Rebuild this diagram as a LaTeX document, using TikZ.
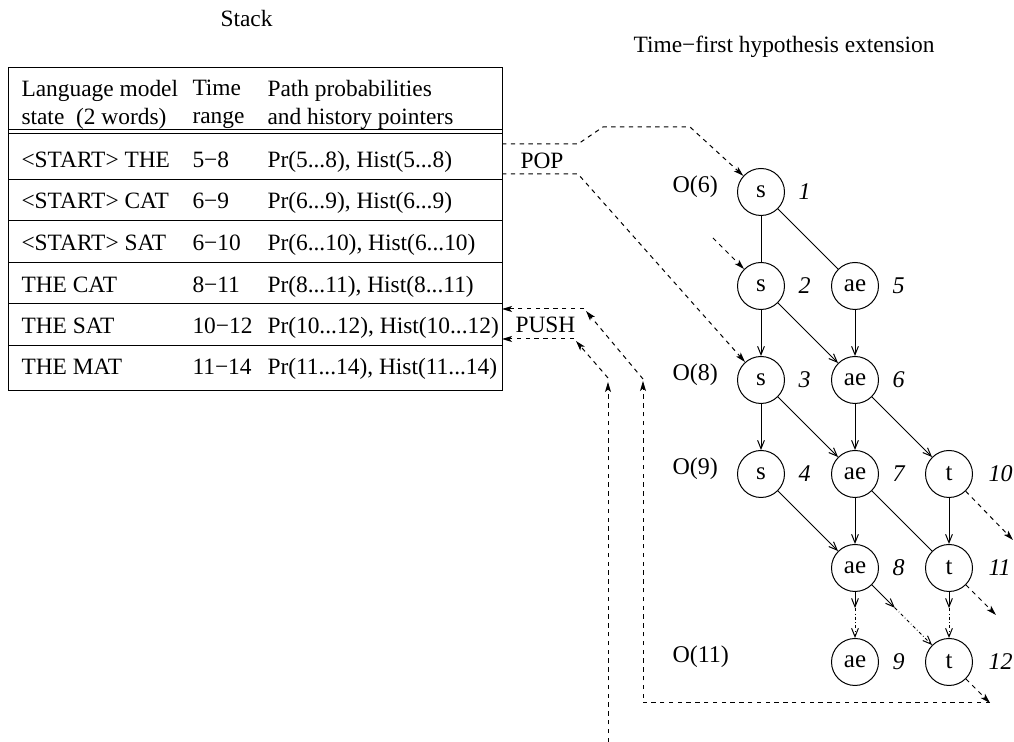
\documentclass[tikz,border=0pt]{standalone}
\usepackage{fontspec}
\setmainfont{Liberation Serif}
\usetikzlibrary{arrows.meta,positioning,calc}

\begin{document}
\begin{tikzpicture}[x=0.5pt,y=-0.5pt,line width=0.5pt,
    font=\fontsize{11.7}{14}\selectfont,node distance=47pt,
    phone/.style={circle,draw,minimum size=23.5pt,inner sep=0pt,
        font=\fontsize{12.5}{14}\selectfont},
    num/.style={font=\fontsize{12}{14}\selectfont\itshape,inner sep=0pt},
    olab/.style={anchor=west,inner sep=0pt,font=\fontsize{12}{14}\selectfont},
    cell/.style={anchor=base west,inner sep=0pt},
    head/.style={anchor=north west,inner sep=0pt,align=left},
    link/.style={-{Straight Barb[length=4.2pt,width=3.4pt]}},
    move/.style={dash pattern=on 2.2pt off 2.2pt,
        -{Stealth[length=5pt,width=3pt,inset=1.2pt]}},
    guess/.style={dash pattern=on 1.6pt off 1.2pt on 0.3pt off 1.2pt,
        -{Straight Barb[length=4.2pt,width=3.4pt]}}]

  \useasboundingbox (0,0) rectangle (1014,742);

  % stack table
  \node[cell] (stack) at (220,27) {Stack};
  \draw (8,68) rectangle (502,391);
  \draw (8,130) -- (502,130) (8,134) -- (502,134);
  \foreach \y in {180,221,263,304,346}
    \draw (8,\y) -- (502,\y);

  \node[head] (h1) at (21,80) {Language model\\state\ \ (2 words)};
  \node[head] (h2) at (192,80) {Time\\range};
  \node[head] (h3) at (267,80) {Path probabilities\\and history pointers};

  \node[cell] (r1a) at (21,168) {<START> THE};
  \node[cell] (r1b) at (192,168) {5−8};
  \node[cell] (r1c) at (267,168) {Pr(5...8), Hist(5...8)};
  \node[cell] (r2a) at (21,209) {<START> CAT};
  \node[cell] (r2b) at (192,209) {6−9};
  \node[cell] (r2c) at (267,209) {Pr(6...9), Hist(6...9)};
  \node[cell] (r3a) at (21,251) {<START> SAT};
  \node[cell] (r3b) at (192,251) {6−10};
  \node[cell] (r3c) at (267,251) {Pr(6...10), Hist(6...10)};
  \node[cell] (r4a) at (21,293) {THE CAT};
  \node[cell] (r4b) at (192,293) {8−11};
  \node[cell] (r4c) at (267,293) {Pr(8...11), Hist(8...11)};
  \node[cell] (r5a) at (21,334) {THE SAT};
  \node[cell] (r5b) at (192,334) {10−12};
  \node[cell] (r5c) at (267,334) {Pr(10...12), Hist(10...12)};
  \node[cell] (r6a) at (21,375) {THE MAT};
  \node[cell] (r6b) at (192,375) {11−14};
  \node[cell] (r6c) at (267,375) {Pr(11...14), Hist(11...14)};

  \node[cell] (pop) at (520,169) {POP};
  \node[cell] (push) at (515,333) {PUSH};

  % hypothesis lattice
  \node[anchor=base east,inner sep=0pt] (title) at (935,53)
    {Time−first hypothesis extension};

  \node[phone] (s1) at (761,192) {s};
  \node[phone] (s2) [below of=s1] {s};
  \node[phone] (s3) [below of=s2] {s};
  \node[phone] (s4) [below of=s3] {s};
  \node[phone] (ae5) [right of=s2] {ae};
  \node[phone] (ae6) [below of=ae5] {ae};
  \node[phone] (ae7) [below of=ae6] {ae};
  \node[phone] (ae8) [below of=ae7] {ae};
  \node[phone] (ae9) [below of=ae8] {ae};
  \node[phone] (t10) [right of=ae7] {t};
  \node[phone] (t11) [below of=t10] {t};
  \node[phone] (t12) [below of=t11] {t};

  \node[num] (n1) [right=6.5pt of s1] {1};
  \node[num] (n2) [right=6.5pt of s2] {2};
  \node[num] (n3) [right=6.5pt of s3] {3};
  \node[num] (n4) [right=6.5pt of s4] {4};
  \node[num] (n5) [right=6.5pt of ae5] {5};
  \node[num] (n6) [right=6.5pt of ae6] {6};
  \node[num] (n7) [right=6.5pt of ae7] {7};
  \node[num] (n8) [right=6.5pt of ae8] {8};
  \node[num] (n9) [right=6.5pt of ae9] {9};
  \node[num] (n10) [right=7.5pt of t10] {10};
  \node[num] (n11) [right=7.5pt of t11] {11};
  \node[num] (n12) [right=7.5pt of t12] {12};

  \node[olab] (o6) at (672,187) {O(6)};
  \node[olab] (o8) at (672,375) {O(8)};
  \node[olab] (o9) at (672,469) {O(9)};
  \node[olab] (o11) at (672,657) {O(11)};

  \draw (s1) -- (s2);
  \draw (s1) -- (ae5);
  \draw (ae7) -- (t11);
  \path[link] (s2) edge (s3) edge (ae6)
    (ae5) edge (ae6)
    (s3) edge (s4) edge (ae7)
    (ae6) edge (ae7) edge (t10)
    (s4) edge (ae8)
    (ae7) edge (ae8)
    (t10) edge (t11);

  \draw[link] (ae8) -- ($(ae8.south)!.35!(ae9.north)$) coordinate (d9);
  \draw[guess] (d9) -- (ae9);
  \draw[link] (ae8) -- ($(ae8.south east)!.38!(t12.north west)$) coordinate (d12);
  \draw[guess] (d12) -- (t12);
  \draw[link] (t11) -- ($(t11.south)!.35!(t12.north)$) coordinate (d11);
  \draw[guess] (d11) -- (t12);

  % pop and push
  \coordinate (pop1) at (502,144);
  \coordinate (pop2) at (502,174);
  \coordinate (in2) at (713,238);
  \draw[move] (pop1) -- ++(76,0) -- ++(25,-17) -- ++(87,0) -- (s1);
  \draw[move] (pop2) -- ++(76,0) -- (s3);
  \draw[move] (in2) -- (s2);

  \coordinate (out10) at (1013,540);
  \coordinate (out11) at (996,615);
  \coordinate (out12) at (990,703);
  \draw[move] (t10) -- (out10);
  \draw[move] (t11) -- (out11);
  \draw[move] (t12) -- (out12);

  \coordinate (up1) at (643,381);
  \coordinate (up2) at (608,382);
  \coordinate (low) at (608,742);
  \draw[move] (out12) -- (643,703) -- (up1);
  \draw[move] ([yshift=1pt]up1) -- (586,311);
  \draw[move] (584,309) -- (502,309);
  \draw[move] (low) -- (up2);
  \draw[move] ([yshift=2pt]up2) -- (576,341);
  \draw[move] (574,339) -- (502,339);
\end{tikzpicture}
\end{document}
